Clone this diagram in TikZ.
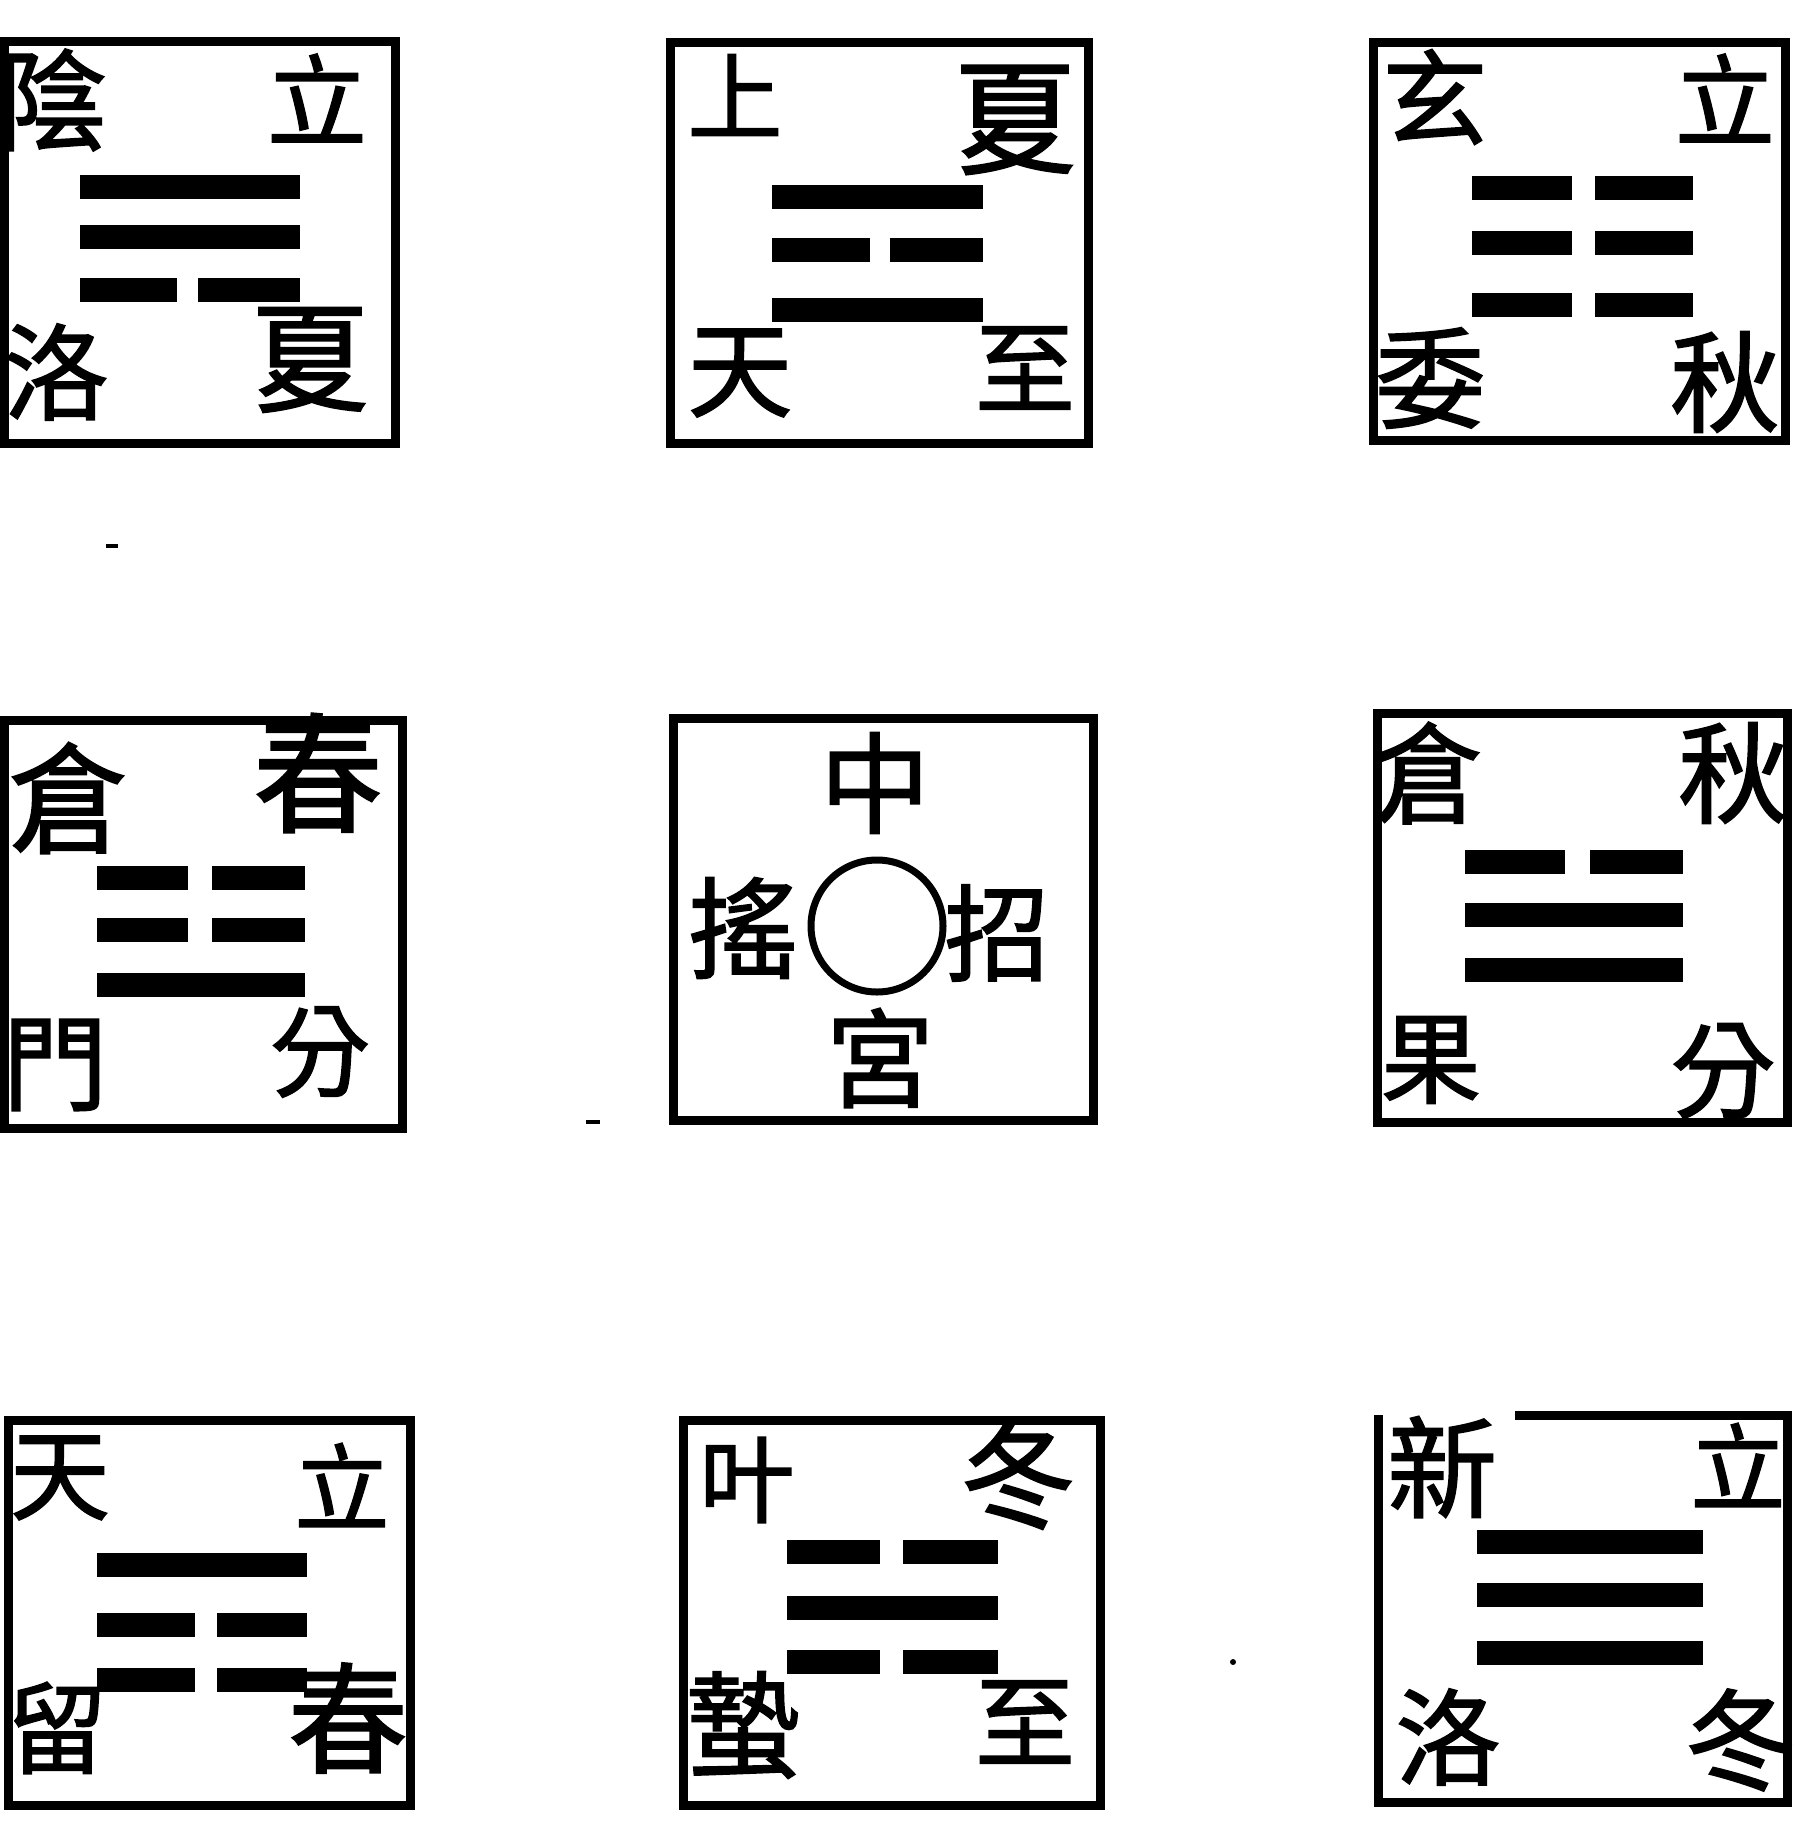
\documentclass[tikz,border=0pt]{standalone}
\usepackage{fontspec}
\newfontfamily\cjk[FakeBold=1.5]{Noto Sans CJK TC}
\tikzset{
  frame/.style={line width=9pt, line join=miter, black},
  bar/.style={line width=24pt, black},
  ch/.style={inner sep=0pt, font=\cjk\fontsize{#1}{#1}\selectfont},
  ch/.default=105,
  speck/.style={line width=4pt, black}
}
\begin{document}
\begin{tikzpicture}[x=1pt,y=-1pt]
\useasboundingbox (0,0) rectangle (1795,1842);
\fill[white] (0,0) rectangle (1795,1842);

% ---------- frames ----------
\draw[frame] (4,41) rectangle (395,443);
\draw[frame] (670,42) rectangle (1088,443);
\draw[frame] (1373,42) rectangle (1785,440);
\draw[frame] (4,720) rectangle (402,1128);
\draw[frame] (673,718) rectangle (1093,1120);
\draw[frame] (1377,713) rectangle (1787,1122);
\draw[frame] (8,1420) rectangle (410,1805);
\draw[frame] (683,1420) rectangle (1100,1805);
\draw[frame] (1515,1415) -- (1787,1415) -- (1787,1802) -- (1378,1802) -- (1378,1415);

% ---------- trigrams ----------
% 1 巽
\draw[bar] (80,187) -- (300,187);
\draw[bar] (80,237) -- (300,237);
\draw[bar] (80,290) -- (177,290);  \draw[bar] (198,290) -- (300,290);
% 2 離
\draw[bar] (772,197) -- (983,197);
\draw[bar] (772,250) -- (870,250);  \draw[bar] (890,250) -- (983,250);
\draw[bar] (772,310) -- (983,310);
% 3 坤
\foreach \y in {188,243,305} {
  \draw[bar] (1472,\y) -- (1572,\y); \draw[bar] (1595,\y) -- (1693,\y);
}
% 4 震
\draw[bar] (97,878) -- (188,878);  \draw[bar] (212,878) -- (305,878);
\draw[bar] (97,930) -- (188,930);  \draw[bar] (212,930) -- (305,930);
\draw[bar] (97,985) -- (305,985);
% 6 兌
\draw[bar] (1465,862) -- (1565,862); \draw[bar] (1590,862) -- (1683,862);
\draw[bar] (1465,915) -- (1683,915);
\draw[bar] (1465,970) -- (1683,970);
% 7 艮
\draw[bar] (97,1565) -- (307,1565);
\draw[bar] (97,1625) -- (195,1625); \draw[bar] (217,1625) -- (307,1625);
\draw[bar] (97,1680) -- (195,1680); \draw[bar] (217,1680) -- (307,1680);
% 8 坎
\draw[bar] (787,1552) -- (880,1552); \draw[bar] (903,1552) -- (998,1552);
\draw[bar] (787,1608) -- (998,1608);
\draw[bar] (787,1662) -- (880,1662); \draw[bar] (903,1662) -- (998,1662);
% 9 乾
\draw[bar] (1477,1542) -- (1703,1542);
\draw[bar] (1477,1595) -- (1703,1595);
\draw[bar] (1477,1653) -- (1703,1653);

% ---------- centre circle ----------
\draw[line width=7pt] (877,926) circle[radius=66];

% ---------- characters ----------
% box 1
\node[ch=110] (c1a) at (52,100) {陰};
\node[ch=100] (c1b) at (317,98) {立};
\node[ch=105] (c1c) at (56,372) {洛};
\node[ch=120] (c1d) at (310,360) {夏};
% box 2
\node[ch=95]  (c2a) at (735,95) {上};
\node[ch=125] (c2b) at (1015,120) {夏};
\node[ch=105] (c2c) at (740,373) {天};
\node[ch=100] (c2d) at (1025,368) {至};
% box 3
\node[ch=105] (c3a) at (1435,97) {玄};
\node[ch=100] (c3b) at (1725,98) {立};
\node[ch=110] (c3c) at (1430,378) {委};
\node[ch=110] (c3d) at (1725,382) {秋};
% box 4
\node[ch=120] (c4a) at (68,798) {倉};
\node[ch=130] (c4b) at (318,773) {春};
\node[ch=105] (c4c) at (55,1065) {門};
\node[ch=100] (c4d) at (320,1052) {分};
% box 5
\node[ch=110] (c5a) at (875,783) {中};
\node[ch=108] (c5b) at (880,1058) {宮};
\node[ch=110] (c5c) at (743,928) {搖};
\node[ch=105] (c5d) at (997,933) {招};
% box 6
\node[ch=110] (c6a) at (1428,773) {倉};
\node[ch=110] (c6b) at (1733,773) {秋};
\node[ch=100] (c6c) at (1431,1060) {果};
\node[ch=105] (c6d) at (1723,1071) {分};
% box 7
\node[ch=100] (c7a) at (60,1478) {天};
\node[ch=95]  (c7b) at (342,1485) {立};
\node[ch=100] (c7c) at (57,1728) {留};
\node[ch=120] (c7d) at (348,1718) {春};
% box 8
\node[ch=95]  (c8a) at (747,1480) {叶};
\node[ch=115] (c8b) at (1018,1476) {冬};
\node[ch=115] (c8c) at (743,1725) {蟄};
\node[ch=100] (c8d) at (1025,1722) {至};
% box 9
\node[ch=110] (c9a) at (1442,1467) {新};
\node[ch=95]  (c9b) at (1738,1465) {立};
\node[ch=105] (c9c) at (1448,1737) {洛};
\node[ch=110] (c9d) at (1740,1740) {冬};

% ---------- specks ----------
\draw[speck] (106,546) -- (118,546);
\draw[speck] (586,1122) -- (600,1122);
\fill (1233,1662) circle[radius=3];
\end{tikzpicture}
\end{document}
